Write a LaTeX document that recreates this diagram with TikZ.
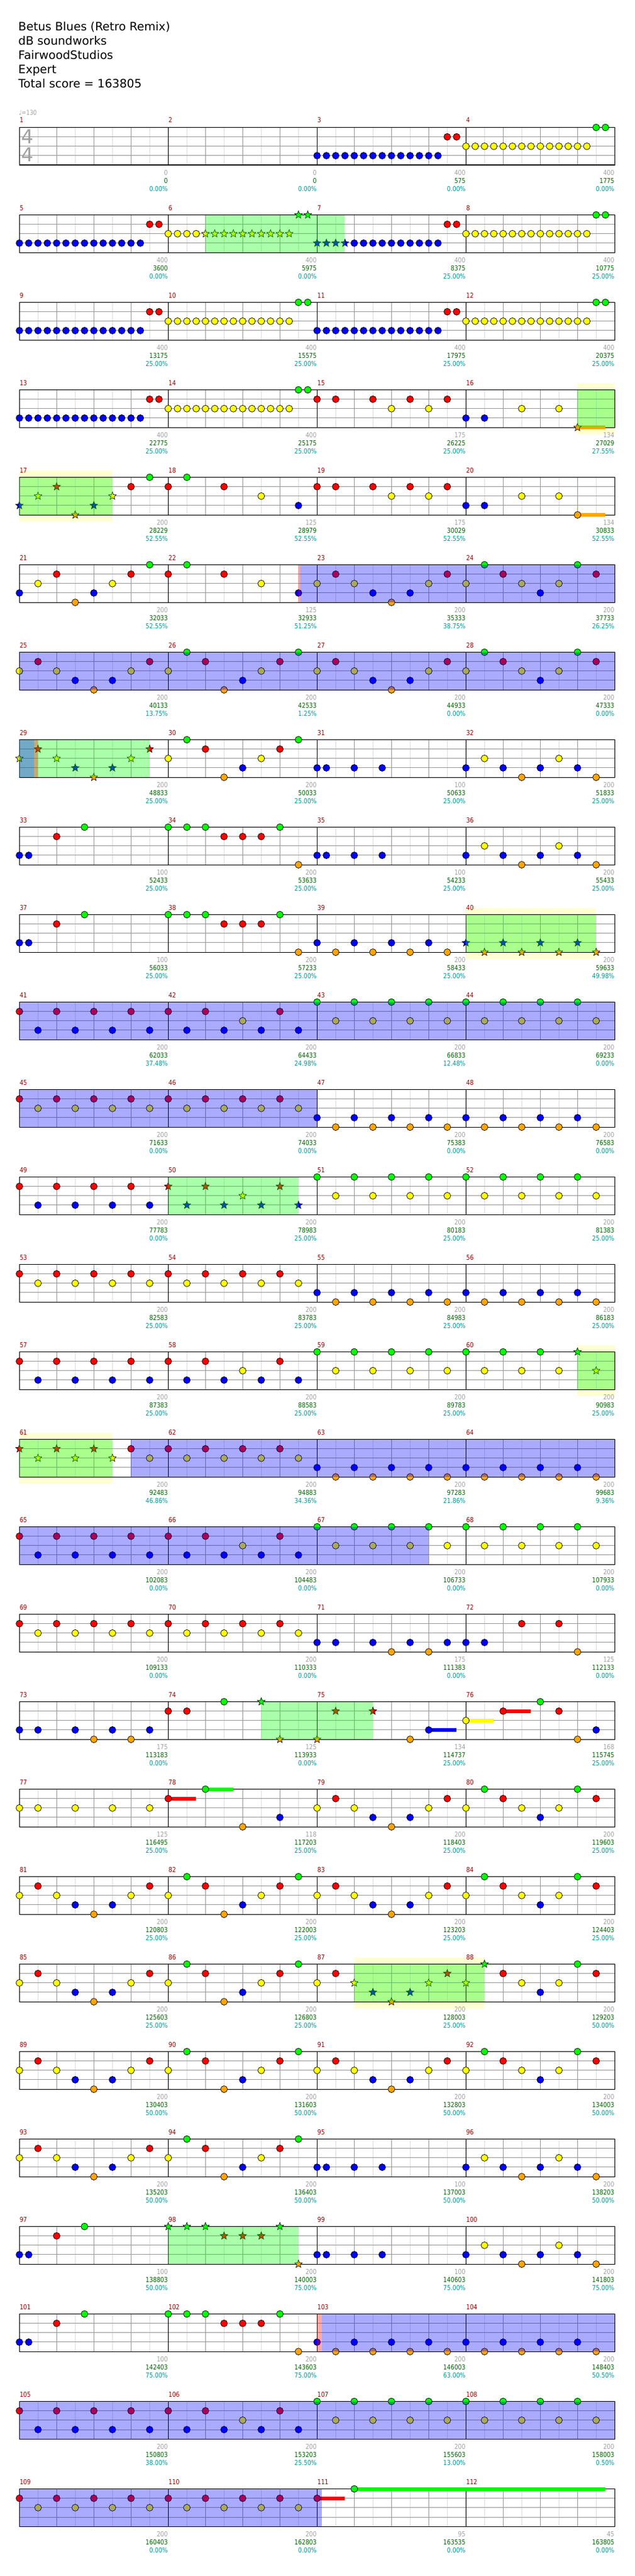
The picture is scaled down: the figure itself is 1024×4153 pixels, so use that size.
\documentclass[tikz,border=0pt]{standalone}
\usepackage{fontspec}
\setmainfont{DejaVu Sans}
\newfontfamily\smallf[FakeStretch=0.85]{DejaVu Sans}
\usetikzlibrary{shapes.geometric}
\definecolor{fret0}{HTML}{00FF00}
\definecolor{fret1}{HTML}{FF0000}
\definecolor{fret2}{HTML}{FFFF00}
\definecolor{fret3}{HTML}{0000FF}
\definecolor{fret4}{HTML}{FFA500}
\definecolor{numred}{HTML}{990000}
\definecolor{numgray}{HTML}{A0A0A0}
\definecolor{numgreen}{HTML}{006400}
\definecolor{numteal}{HTML}{009999}
\definecolor{gridgray}{HTML}{999999}
\definecolor{gridlight}{HTML}{DDDDDD}
\definecolor{boxyellow}{HTML}{FFFFD2}
\newcommand\RT[1]{\pgfmathsetmacro{\rowT}{205.5+141*#1}}
\newcommand\drawgrid[1]{\RT{#1}%
 \foreach \j in {1,3,...,31} {\draw[gridlight,line width=1pt] (31.3+30*\j,\rowT) -- ++(0,60.6);}%
 \foreach \j in {1,2,3,5,6,7,9,10,11,13,14,15} {\draw[gridgray,line width=1pt] (31.3+60*\j,\rowT) -- ++(0,60.6);}%
 \foreach \k in {1,2,3} {\draw[gridgray,line width=1pt] (31.3,\rowT+15.15*\k) -- (991.3,\rowT+15.15*\k);}%
 \foreach \j in {4,8,12} {\draw[black,line width=1pt] (31.3+60*\j,\rowT) -- ++(0,60.6);}%
 \draw[black,line width=1.2pt] (31.3,\rowT) rectangle (991.3,\rowT+60.6);}
\newcommand\pat[3]{\RT{#1}\edef\curlist{#3}%
 \foreach \po/\pf in \curlist {\draw[notec, fill=fret\pf] (31.3+240*#2+15*\po, \rowT+15.15*\pf) circle[radius=5.5pt];}}
\newcommand\spat[3]{\RT{#1}\edef\curlist{#3}%
 \foreach \po/\pf in \curlist {\node[starn, fill=fret\pf] (st-#1-#2-\po) at (31.3+240*#2+15*\po, \rowT+15.15*\pf) {};}}
\newcommand\run[4]{\RT{#1}\foreach \pi in {#2,...,#3} {\draw[notec, fill=fret#4] (31.3+15*\pi,\rowT+15.15*#4) circle[radius=5.5pt];}}
\newcommand\srun[4]{\RT{#1}\foreach \pi in {#2,...,#3} {\node[starn, fill=fret#4] (sr-#1-\pi) at (31.3+15*\pi,\rowT+15.15*#4) {};}}
\newcommand\sus[4]{\RT{#1}\draw[line width=6pt, fret#4] (31.3+15*#2,\rowT+15.15*#4) -- (31.3+15*#3,\rowT+15.15*#4);}
\newcommand\gbox[3]{\RT{#1}\fill[fret0, opacity=0.333] (31.3+15*#2,\rowT) rectangle (31.3+15*#3,\rowT+60.6);}
\newcommand\ybox[3]{\RT{#1}\fill[boxyellow] (31.3+15*#2,\rowT-10.5) rectangle (31.3+15*#3,\rowT+71.1);}
\newcommand\bbox[3]{\RT{#1}\fill[fret3, opacity=0.333] (#2,\rowT) rectangle (#3,\rowT+60.6);}
\newcommand\rbox[3]{\RT{#1}\fill[fret1, opacity=0.333] (#2,\rowT) rectangle (#3,\rowT+60.6);}
\def\PA{0/2,2/1,4/2,6/3,8/4,10/3,12/2,14/1}
\def\PB{0/2,2/0,4/1,6/4,8/3,10/2,12/1,14/0}
\def\PC{0/2,2/0,4/1,6/2,8/3,10/2,12/0,14/1}
\def\PD{0/3,2/2,4/3,6/4,8/3,10/2,12/3,14/4}
\def\PE{0/3,1/3,4/3,7/3}
\def\PF{0/3,1/3,4/1,7/0}
\def\PG{0/0,2/0,4/0,6/1,8/1,10/1,12/0,14/4}
\def\PH{0/3,2/4,4/3,6/4,8/3,10/4,12/3,14/4}
\def\PI{0/1,2/3,4/1,6/3,8/1,10/3,12/1,14/3}
\def\PJ{0/1,2/3,4/1,6/3,8/2,10/3,12/1,14/3}
\def\PK{0/0,2/2,4/0,6/2,8/0,10/2,12/0,14/2}
\def\PL{0/1,2/2,4/1,6/2,8/1,10/2,12/1,14/2}
\def\PM{0/1,2/1,6/1,8/2,10/1,12/2,14/1}
\def\PN{0/3,2/3,6/2,10/2}
\def\PQ{0/1,2/0,6/1,10/2,14/3}
\def\PR{0/3,2/2,4/1,6/4,8/3,10/2,12/1,14/0}
\tikzset{
 notec/.style={draw=black, line width=0.7pt},
 starn/.style={star, star points=5, star point ratio=2.3, minimum size=13pt, inner sep=0pt, draw=black, line width=0.6pt},
 smalltxt/.style={inner sep=0pt, font=\smallf\fontsize{11}{13}\selectfont},
 mnum/.style={smalltxt, anchor=base west, text=numred},
 sgray/.style={smalltxt, anchor=base east, text=numgray},
 sgreen/.style={smalltxt, anchor=base east, text=numgreen},
 steal/.style={smalltxt, anchor=base east, text=numteal},
 head/.style={anchor=base west, inner sep=0pt, font=\fontsize{18.7}{22}\selectfont}
}
\begin{document}
\begin{tikzpicture}[x=1pt,y=-1pt]
\fill[white] (0,0) rectangle (1024,4153);
\useasboundingbox (0,0) rectangle (1024,4153);
% header
\node[head] (title) at (29.5,49.5) {Betus Blues (Retro Remix)};
\node[head] (artist) at (29.5,72.5) {dB soundworks};
\node[head] (charter) at (29.5,95.5) {FairwoodStudios};
\node[head] (diff) at (29.5,118.5) {Expert};
\node[head] (total) at (29.5,141.5) {Total score = 163805};
\node[smalltxt, anchor=base west, text=numgray, font=\smallf\fontsize{10.5}{12}\selectfont] (tempo) at (30.5,185.3) {♩=130};
% yellow boxes
\ybox{3}{60}{64} \ybox{4}{0}{10} \ybox{9}{48}{62} \ybox{14}{60}{64} \ybox{15}{0}{10} \ybox{21}{36}{50}
% grids
\foreach \r in {0,...,27} {\drawgrid{\r}}
\node[inner sep=0pt, text=numgray, font=\fontsize{31}{31}\selectfont] (ts1) at (44.2,220.5) {4};
\node[inner sep=0pt, text=numgray, font=\fontsize{31}{31}\selectfont] (ts2) at (44.2,249.5) {4};
% sustains
\sus{3}{60}{63}{4} \sus{4}{60}{63}{4}
\sus{18}{44}{47}{3} \sus{18}{48}{51}{2} \sus{18}{52}{55}{1}
\sus{19}{16}{19}{1} \sus{19}{20}{23}{0}
\sus{27}{32}{35}{1} \sus{27}{36}{63}{0}
% row 0
\run{0}{32}{45}{3} \run{0}{46}{47}{1} \run{0}{48}{61}{2} \run{0}{62}{63}{0}
% row 1
\run{1}{0}{13}{3} \run{1}{14}{15}{1} \run{1}{16}{19}{2} \srun{1}{20}{29}{2} \srun{1}{30}{31}{0} \srun{1}{32}{35}{3} \run{1}{36}{45}{3} \run{1}{46}{47}{1} \run{1}{48}{61}{2} \run{1}{62}{63}{0}
% row 2
\run{2}{0}{13}{3} \run{2}{14}{15}{1} \run{2}{16}{29}{2} \run{2}{30}{31}{0} \run{2}{32}{45}{3} \run{2}{46}{47}{1} \run{2}{48}{61}{2} \run{2}{62}{63}{0}
% row 3
\run{3}{0}{13}{3} \run{3}{14}{15}{1} \run{3}{16}{29}{2} \run{3}{30}{31}{0} \pat{3}{2}{\PM} \pat{3}{3}{\PN} \spat{3}{3}{12/4}
% row 4
\spat{4}{0}{0/3,2/2,4/1,6/4,8/3,10/2} \pat{4}{0}{12/1,14/0} \pat{4}{1}{\PQ} \pat{4}{2}{\PM} \pat{4}{3}{\PN} \pat{4}{3}{12/4}
% rows 5-9
\pat{5}{0}{\PR} \pat{5}{1}{\PQ} \pat{5}{2}{\PA} \pat{5}{3}{\PC}
\pat{6}{0}{\PA} \pat{6}{1}{\PB} \pat{6}{2}{\PA} \pat{6}{3}{\PC}
\spat{7}{0}{\PA} \pat{7}{1}{\PB} \pat{7}{2}{\PE} \pat{7}{3}{\PD}
\pat{8}{0}{\PF} \pat{8}{1}{\PG} \pat{8}{2}{\PE} \pat{8}{3}{\PD}
\pat{9}{0}{\PF} \pat{9}{1}{\PG} \pat{9}{2}{\PH} \spat{9}{3}{\PH}
% rows 10-17
\pat{10}{0}{\PI} \pat{10}{1}{\PJ} \pat{10}{2}{\PK} \pat{10}{3}{\PK}
\pat{11}{0}{\PL} \pat{11}{1}{\PL} \pat{11}{2}{\PH} \pat{11}{3}{\PH}
\pat{12}{0}{\PI} \spat{12}{1}{\PJ} \pat{12}{2}{\PK} \pat{12}{3}{\PK}
\pat{13}{0}{\PL} \pat{13}{1}{\PL} \pat{13}{2}{\PH} \pat{13}{3}{\PH}
\pat{14}{0}{\PI} \pat{14}{1}{\PJ} \pat{14}{2}{\PK} \pat{14}{3}{0/0,2/2,4/0,6/2,8/0,10/2} \spat{14}{3}{12/0,14/2}
\spat{15}{0}{0/1,2/2,4/1,6/2,8/1,10/2} \pat{15}{0}{12/1,14/2} \pat{15}{1}{\PL} \pat{15}{2}{\PH} \pat{15}{3}{\PH}
\pat{16}{0}{\PI} \pat{16}{1}{\PJ} \pat{16}{2}{\PK} \pat{16}{3}{\PK}
\pat{17}{0}{\PL} \pat{17}{1}{\PL} \pat{17}{2}{0/3,2/3,6/3,8/4,10/3,12/4,14/3} \pat{17}{3}{0/3,2/3,6/1,10/1,12/4}
% row 18
\pat{18}{0}{0/3,2/3,6/3,8/4,10/3,12/4,14/3} \pat{18}{1}{0/1,2/1,6/0} \spat{18}{1}{10/0,12/4}
\spat{18}{2}{0/4,2/1,6/1} \pat{18}{2}{10/4,12/3} \pat{18}{3}{0/2,4/1,8/0,10/1,12/4,14/3}
% row 19
\pat{19}{0}{0/2,2/2,6/2,10/2,14/2} \pat{19}{1}{0/1,4/0,8/4,12/3} \pat{19}{2}{\PA} \pat{19}{3}{\PC}
% rows 20-27
\pat{20}{0}{\PA} \pat{20}{1}{\PB} \pat{20}{2}{\PA} \pat{20}{3}{\PC}
\pat{21}{0}{\PA} \pat{21}{1}{\PB} \pat{21}{2}{0/2,2/1} \spat{21}{2}{4/2,6/3,8/4,10/3,12/2,14/1} \spat{21}{3}{0/2,2/0} \pat{21}{3}{4/1,6/2,8/3,10/2,12/0,14/1}
\pat{22}{0}{\PA} \pat{22}{1}{\PB} \pat{22}{2}{\PA} \pat{22}{3}{\PC}
\pat{23}{0}{\PA} \pat{23}{1}{\PB} \pat{23}{2}{\PE} \pat{23}{3}{\PD}
\pat{24}{0}{\PF} \spat{24}{1}{\PG} \pat{24}{2}{\PE} \pat{24}{3}{\PD}
\pat{25}{0}{\PF} \pat{25}{1}{\PG} \pat{25}{2}{\PH} \pat{25}{3}{\PH}
\pat{26}{0}{\PI} \pat{26}{1}{\PJ} \pat{26}{2}{\PK} \pat{26}{3}{\PK}
\pat{27}{0}{\PL} \pat{27}{1}{\PL} \pat{27}{2}{0/1,4/0}
% green (star power) overlays
\gbox{1}{20}{35} \gbox{3}{60}{64} \gbox{4}{0}{10} \gbox{7}{0}{14} \gbox{9}{48}{62} \gbox{12}{16}{30}
\gbox{14}{60}{64} \gbox{15}{0}{10} \gbox{18}{26}{38} \gbox{21}{36}{50} \gbox{24}{16}{30}
% blue (solo) overlays
\bbox{5}{484}{991.3} \bbox{6}{31.3}{991.3} \bbox{7}{31.3}{55} \bbox{10}{31.3}{991.3} \bbox{11}{31.3}{511.3}
\bbox{15}{211.3}{991.3} \bbox{16}{31.3}{691.3} \bbox{25}{519}{991.3} \bbox{26}{31.3}{991.3} \bbox{27}{31.3}{519}
% red markers
\rbox{5}{481}{484} \rbox{7}{55}{61} \rbox{25}{511.3}{519}
% measure labels and scores
\foreach \m/\ga/\gb/\pc in {1/0/0/0.00, 2/0/0/0.00, 3/400/575/0.00, 4/400/1775/0.00, 5/400/3600/0.00, 6/400/5975/0.00, 7/400/8375/25.00, 8/400/10775/25.00, 9/400/13175/25.00, 10/400/15575/25.00, 11/400/17975/25.00, 12/400/20375/25.00, 13/400/22775/25.00, 14/400/25175/25.00, 15/175/26225/25.00, 16/134/27029/27.55, 17/200/28229/52.55, 18/125/28979/52.55, 19/175/30029/52.55, 20/134/30833/52.55, 21/200/32033/52.55, 22/125/32933/51.25, 23/200/35333/38.75, 24/200/37733/26.25, 25/200/40133/13.75, 26/200/42533/1.25, 27/200/44933/0.00, 28/200/47333/0.00, 29/200/48833/25.00, 30/200/50033/25.00, 31/100/50633/25.00, 32/200/51833/25.00, 33/100/52433/25.00, 34/200/53633/25.00, 35/100/54233/25.00, 36/200/55433/25.00, 37/100/56033/25.00, 38/200/57233/25.00, 39/200/58433/25.00, 40/200/59633/49.98, 41/200/62033/37.48, 42/200/64433/24.98, 43/200/66833/12.48, 44/200/69233/0.00, 45/200/71633/0.00, 46/200/74033/0.00, 47/200/75383/0.00, 48/200/76583/0.00, 49/200/77783/0.00, 50/200/78983/25.00, 51/200/80183/25.00, 52/200/81383/25.00, 53/200/82583/25.00, 54/200/83783/25.00, 55/200/84983/25.00, 56/200/86183/25.00, 57/200/87383/25.00, 58/200/88583/25.00, 59/200/89783/25.00, 60/200/90983/25.00, 61/200/92483/46.86, 62/200/94883/34.36, 63/200/97283/21.86, 64/200/99683/9.36, 65/200/102083/0.00, 66/200/104483/0.00, 67/200/106733/0.00, 68/200/107933/0.00, 69/200/109133/0.00, 70/200/110333/0.00, 71/175/111383/0.00, 72/125/112133/0.00, 73/175/113183/0.00, 74/125/113933/0.00, 75/134/114737/25.00, 76/168/115745/25.00, 77/125/116495/25.00, 78/118/117203/25.00, 79/200/118403/25.00, 80/200/119603/25.00, 81/200/120803/25.00, 82/200/122003/25.00, 83/200/123203/25.00, 84/200/124403/25.00, 85/200/125603/25.00, 86/200/126803/25.00, 87/200/128003/25.00, 88/200/129203/50.00, 89/200/130403/50.00, 90/200/131603/50.00, 91/200/132803/50.00, 92/200/134003/50.00, 93/200/135203/50.00, 94/200/136403/50.00, 95/100/137003/50.00, 96/200/138203/50.00, 97/100/138803/50.00, 98/200/140003/75.00, 99/100/140603/75.00, 100/200/141803/75.00, 101/100/142403/75.00, 102/200/143603/75.00, 103/200/146003/63.00, 104/200/148403/50.50, 105/200/150803/38.00, 106/200/153203/25.50, 107/200/155603/13.00, 108/200/158003/0.50, 109/200/160403/0.00, 110/200/162803/0.00, 111/95/163535/0.00, 112/45/163805/0.00} {
 \pgfmathtruncatemacro{\rr}{int((\m-1)/4)}
 \pgfmathtruncatemacro{\kk}{\m-1-4*\rr}
 \pgfmathsetmacro{\xs}{31.3+240*\kk}
 \pgfmathsetmacro{\xe}{\xs+240}
 \pgfmathsetmacro{\TT}{205.5+141*\rr}
 \node[mnum] (mn\m) at (\xs+0.3,\TT-7.5) {\m};
 \node[sgray] (sg\m) at (\xe-0.5,\TT+77) {\ga};
 \node[sgreen] (sc\m) at (\xe-0.5,\TT+90) {\gb};
 \node[steal] (sp\m) at (\xe-0.5,\TT+103) {\pc\%};
}
\end{tikzpicture}
\end{document}
